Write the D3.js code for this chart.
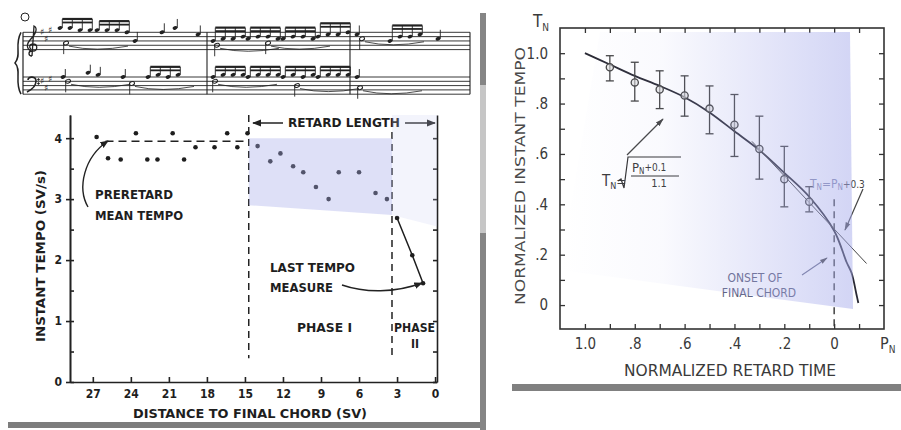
<!DOCTYPE html>
<html>
<head>
<meta charset="utf-8">
<script src="https://cdn.jsdelivr.net/npm/d3@7"></script>
<style>
body { margin: 0; background: #fff; }
svg { display: block; background: #fff; }
.lt { font-family: "DejaVu Sans Condensed", "DejaVu Sans", sans-serif; font-weight: bold; fill: #1e1e1e; }
.rt { font-family: "DejaVu Sans Condensed", "DejaVu Sans", sans-serif; fill: #3a3a3a; }
</style>
</head>
<body>
<svg width="901" height="430"></svg>
<script>
// ---- left panel: distance to final chord (SV) / instant tempo (SV/s)
var preDist  = [26.7, 25.8, 24.8, 23.6, 22.7, 21.9, 20.7, 19.8, 18.9, 17.4, 16.4, 15.6, 14.8];
var preTempo = [4.02, 3.67, 3.65, 4.08, 3.65, 3.65, 4.08, 3.65, 3.85, 3.85, 4.08, 3.85, 4.08];
var retDist  = [14.0, 13.0, 12.2, 11.2, 10.4, 9.4, 8.4, 7.6, 6.0, 4.7, 3.8];
var retTempo = [3.87, 3.62, 3.75, 3.54, 3.44, 3.2, 3.0, 3.44, 3.44, 3.1, 3.0];
var ph2Dist  = [3.0, 1.8, 0.95];
var ph2Tempo = [2.69, 2.08, 1.62];
var preMean = 3.95;
var retardStart = 14.7, phase2Start = 3.4;
var distTicks  = [27, 24, 21, 18, 15, 12, 9, 6, 3, 0];
var tempoTicks = [0, 1, 2, 3, 4];

// ---- right panel: normalized retard time P_N / normalized tempo T_N
var pn   = [0.9, 0.8, 0.7, 0.6, 0.5, 0.4, 0.3, 0.2, 0.1];
var tn   = [0.944, 0.884, 0.856, 0.832, 0.78, 0.716, 0.62, 0.50, 0.41];
var tnHi = [0.99, 0.964, 0.93, 0.91, 0.87, 0.836, 0.75, 0.63, 0.47];
var tnLo = [0.89, 0.81, 0.78, 0.75, 0.68, 0.59, 0.50, 0.39, 0.37];
var fitP = [1.0, 0.9, 0.8, 0.7, 0.6, 0.5, 0.4, 0.3, 0.2, 0.1, 0, -0.05, -0.07, -0.09, -0.097];
var fitT = [1.0, 0.955, 0.91, 0.87, 0.825, 0.765, 0.69, 0.615, 0.525, 0.43, 0.295, 0.17, 0.127, 0.04, 0.008];
var linP = [0.33, -0.13];
var linT = [0.65, 0.165];
var pnTicks = [1.0, 0.8, 0.6, 0.4, 0.2, 0];
var tnTicks = [0, 0.2, 0.4, 0.6, 0.8, 1.0];

// ---- score excerpt (staff steps, 0 = bottom line)
var trebleGroups = [[10,10,9,9],[9,9,9,8],[4],[8],[10],[7],[4,5,5,6],[5,6,6,5],[5,6,6,5],[6,7,7,8],[7],[4,6,6,7],[5]];
var trebleStarts = [0.8, 4.5, 8.3, 11, 12.3, 14.6, 16.1, 19.6, 23.1, 26.6, 30.5, 33.8, 38.6];
var trebleLow    = [3, 2, 3, 5];
var trebleLowAt  = [1.4, 16.5, 21.6, 31];
var bassGroups   = [[8],[10],[9],[8],[8,9,8,9],[8,9,9,9],[8,9,9,9],[8,9,8,9],[8,9,9,9],[8]];
var bassStarts   = [1.1, 3.6, 4.6, 7.1, 9.6, 16.1, 19.6, 23.1, 26.6, 30.5];
var bassLow      = [6, 5, 6, 4, 3];
var bassLowAt    = [1.6, 8.0, 16.3, 24.5, 30.8];
var barAt        = [15.5, 29.8];

var svg = d3.select("svg");
var defs = svg.append("defs");
defs.append("marker").attr("id", "ah").attr("viewBox", "0 0 10 10")
    .attr("refX", 9).attr("refY", 5).attr("markerWidth", 6).attr("markerHeight", 6)
    .attr("orient", "auto")
  .append("path").attr("d", "M0,1 L10,5 L0,9 z").attr("fill", "#222");
defs.append("marker").attr("id", "ahr").attr("viewBox", "0 0 10 10")
    .attr("refX", 9).attr("refY", 5).attr("markerWidth", 7).attr("markerHeight", 7)
    .attr("orient", "auto")
  .append("path").attr("d", "M0,2 L10,5 L0,8 z").attr("fill", "#444");
var grad = defs.append("linearGradient").attr("id", "blue");
grad.append("stop").attr("offset", "0").attr("stop-color", "#a6abeb").attr("stop-opacity", 0);
grad.append("stop").attr("offset", "0.35").attr("stop-color", "#a6abeb").attr("stop-opacity", 0.06);
grad.append("stop").attr("offset", "1").attr("stop-color", "#a6abeb").attr("stop-opacity", 0.5);

// frame bars
svg.append("rect").attr("x", 8).attr("y", 422).attr("width", 478).attr("height", 6).attr("fill", "#7d7d7d");
svg.append("rect").attr("x", 480).attr("y", 13).attr("width", 6).attr("height", 417).attr("fill", "#858585");
svg.append("rect").attr("x", 480).attr("y", 85).attr("width", 6).attr("height", 148).attr("fill", "#c6c6c6");
svg.append("rect").attr("x", 512).attr("y", 384).attr("width", 389).attr("height", 7).attr("fill", "#808080");

// =============== score ===============
var S = svg.append("g").attr("stroke", "#222").attr("fill", "none");
var sx = d3.scaleLinear().domain([0, 40]).range([52, 452]);
var stY = d3.scaleLinear().domain([0, 8]).range([49.6, 32.3]);
var bsY = d3.scaleLinear().domain([0, 8]).range([94.2, 77]);
[stY, bsY].forEach(function(y) {
  [0, 2, 4, 6, 8].forEach(function(s) {
    S.append("line").attr("x1", 23).attr("x2", 470).attr("y1", y(s)).attr("y2", y(s)).attr("stroke-width", 0.9);
  });
});
S.append("line").attr("x1", 23).attr("x2", 23).attr("y1", stY(8)).attr("y2", bsY(0)).attr("stroke-width", 1.2);
S.append("path").attr("d", "M21," + stY(8) + " C14,45 22,55 15,63 C22,70 14,82 21," + bsY(0)).attr("stroke-width", 1.5);
barAt.concat([41.8]).forEach(function(b) {
  S.append("line").attr("x1", sx(b)).attr("x2", sx(b)).attr("y1", stY(8)).attr("y2", bsY(0)).attr("stroke-width", 1.1);
});
// clefs and key signatures
S.append("path").attr("d", "M32,56 C28,56 28,51 32,51 M32,56 L34,26 C38,28 36,34 30,40 C25,46 28,51 33,51 C38,51 38,44 33,44 C29,44 29,48 31,49")
  .attr("stroke-width", 1.3);
S.append("path").attr("d", "M28,80 C28,76 36,76 36,81 C36,86 31,90 27,92").attr("stroke-width", 1.6);
S.append("circle").attr("cx", 38.5).attr("cy", 79.5).attr("r", 0.8).attr("fill", "#222");
S.append("circle").attr("cx", 38.5).attr("cy", 83.5).attr("r", 0.8).attr("fill", "#222");
S.append("circle").attr("cx", 25).attr("cy", 17).attr("r", 4).attr("stroke-width", 1);
[[8, 5, 9], [6, 3, 7]].forEach(function(ks, k) {
  var y = k === 0 ? stY : bsY;
  ks.forEach(function(s, i) {
    svg.append("text").attr("x", 40 + i * 4).attr("y", y(s) + 3).attr("font-size", 9)
      .attr("font-family", "DejaVu Sans").attr("fill", "#222").text("\u266F");
  });
});

function drawGroups(groups, starts, y, lift) {
  groups.forEach(function(g, gi) {
    var xs = g.map(function(s, i) { return sx(starts[gi] + i); });
    var ys = g.map(function(s) { return y(s); });
    var top = d3.min(ys) - lift;
    g.forEach(function(s, i) {
      S.append("ellipse").attr("cx", xs[i]).attr("cy", ys[i]).attr("rx", 2.5).attr("ry", 1.8)
        .attr("transform", "rotate(-20," + xs[i] + "," + ys[i] + ")").attr("fill", "#222").attr("stroke", "none");
      S.append("line").attr("x1", xs[i] + 2.3).attr("x2", xs[i] + 2.3).attr("y1", ys[i]).attr("y2", top).attr("stroke-width", 0.9);
    });
    if (g.length > 1) {
      S.append("line").attr("x1", xs[0] + 2.3).attr("x2", xs[xs.length - 1] + 2.3)
        .attr("y1", top).attr("y2", top).attr("stroke-width", 2.2);
      S.append("line").attr("x1", xs[0] + 2.3).attr("x2", xs[xs.length - 1] + 2.3)
        .attr("y1", top + 3.5).attr("y2", top + 3.5).attr("stroke-width", 1.8);
    }
  });
}
function drawLow(steps, at, y) {
  steps.forEach(function(s, i) {
    var cx = sx(at[i]), cy = y(s);
    S.append("ellipse").attr("cx", cx).attr("cy", cy).attr("rx", 2.6).attr("ry", 1.8)
      .attr("transform", "rotate(-20," + cx + "," + cy + ")").attr("stroke-width", 1);
    S.append("line").attr("x1", cx - 2.3).attr("x2", cx - 2.3).attr("y1", cy).attr("y2", cy + 11).attr("stroke-width", 0.9);
    S.append("path").attr("d", "M" + (cx + 3) + "," + (cy + 3) + " Q" + (cx + 30) + "," + (cy + 9) + " " + (cx + 62) + "," + (cy + 3))
      .attr("stroke-width", 0.8);
  });
}
drawGroups(trebleGroups, trebleStarts, stY, 9);
drawGroups(bassGroups, bassStarts, bsY, 8);
drawLow(trebleLow, trebleLowAt, stY);
drawLow(bassLow, bassLowAt, bsY);

// =============== left panel ===============
var xL = d3.scaleLinear().domain([28.8, -0.15]).range([70, 437]);
var yL = d3.scaleLinear().domain([0, 4.38]).range([382, 115]);
var L = svg.append("g");

function styleAxis(g, cls, size) {
  g.attr("font-family", null).attr("font-size", size).attr("color", "#222");
  g.selectAll("text").attr("class", cls);
  g.selectAll("path,line").attr("stroke-width", 1.6);
}
L.append("g").attr("transform", "translate(0,382)")
  .call(d3.axisBottom(xL).tickValues(distTicks).tickSize(-5).tickPadding(7).tickSizeOuter(0))
  .call(styleAxis, "lt", 12);
L.append("g").attr("transform", "translate(70,0)")
  .call(d3.axisLeft(yL).tickValues(tempoTicks).tickFormat(d3.format("d")).tickSize(4).tickPadding(4).tickSizeOuter(0))
  .call(styleAxis, "lt", 12);
L.append("g").attr("transform", "translate(70,0)")
  .call(d3.axisLeft(yL).tickValues(yL.ticks(9)).tickSize(-4).tickFormat("").tickSizeOuter(0))
  .call(styleAxis, "lt", 12);
L.append("g").attr("transform", "translate(437,0)")
  .call(d3.axisRight(yL).tickValues(yL.ticks(9)).tickSize(-4).tickFormat("").tickSizeOuter(0))
  .call(styleAxis, "lt", 12);

// pre-retard mean and phase boundaries
L.append("line").attr("x1", xL(26)).attr("x2", xL(retardStart))
  .attr("y1", yL(preMean)).attr("y2", yL(preMean))
  .attr("stroke", "#222").attr("stroke-width", 1.5).attr("stroke-dasharray", "8,5");
[retardStart, phase2Start].forEach(function(d, i) {
  L.append("line").attr("x1", xL(d)).attr("x2", xL(d))
    .attr("y1", i === 0 ? yL(4.38) : yL(4.1)).attr("y2", yL(0.39))
    .attr("stroke", "#222").attr("stroke-width", 1.5).attr("stroke-dasharray", "7,5");
});

// dots
L.selectAll(".pre").data(preDist).enter().append("circle")
  .attr("cx", function(d) { return xL(d); })
  .attr("cy", function(d, i) { return yL(preTempo[i]); })
  .attr("r", 2.3).attr("fill", "#1e1e1e");
L.selectAll(".ret").data(retDist).enter().append("circle")
  .attr("cx", function(d) { return xL(d); })
  .attr("cy", function(d, i) { return yL(retTempo[i]); })
  .attr("r", 2.3).attr("fill", "#1e1e1e");
L.append("path")
  .attr("d", d3.line().x(function(d) { return xL(d); }).y(function(d, i) { return yL(ph2Tempo[i]); })(ph2Dist))
  .attr("fill", "none").attr("stroke", "#1e1e1e").attr("stroke-width", 1.5);
L.selectAll(".ph2").data(ph2Dist).enter().append("circle")
  .attr("cx", function(d) { return xL(d); })
  .attr("cy", function(d, i) { return yL(ph2Tempo[i]); })
  .attr("r", 2.3).attr("fill", "#1e1e1e");

// retard length arrow
L.append("line").attr("x1", 283).attr("x2", 253).attr("y1", 123).attr("y2", 123)
  .attr("stroke", "#222").attr("stroke-width", 1.5).attr("marker-end", "url(#ah)");
L.append("line").attr("x1", 405).attr("x2", 435).attr("y1", 123).attr("y2", 123)
  .attr("stroke", "#222").attr("stroke-width", 1.5).attr("marker-end", "url(#ah)");
L.append("path").attr("d", "M88,207 C77,188 84,157 108,141").attr("fill", "none")
  .attr("stroke", "#222").attr("stroke-width", 1.4).attr("marker-end", "url(#ah)");
L.append("path").attr("d", "M342,285 C365,293 395,293 422,283").attr("fill", "none")
  .attr("stroke", "#222").attr("stroke-width", 1.4).attr("marker-end", "url(#ah)");

var lt = [
  ["RETARD LENGTH", 288, 127, 112],
  ["PRERETARD", 95, 199, 78],
  ["MEAN TEMPO", 95, 220, 88],
  ["LAST TEMPO", 270, 272, 85],
  ["MEASURE", 270, 292, 63],
  ["PHASE I", 297, 332, 55],
  ["PHASE", 394, 332, 41]
];
lt.forEach(function(t) {
  L.append("text").attr("class", "lt").attr("x", t[1]).attr("y", t[2]).attr("font-size", 12)
    .attr("textLength", t[3]).attr("lengthAdjust", "spacingAndGlyphs").text(t[0]);
});
L.append("text").attr("class", "lt").attr("x", 415).attr("y", 348).attr("font-size", 12)
  .attr("text-anchor", "middle").text("II");
L.append("text").attr("class", "lt").attr("x", 250).attr("y", 418).attr("font-size", 13)
  .attr("text-anchor", "middle").attr("textLength", 234).attr("lengthAdjust", "spacingAndGlyphs")
  .text("DISTANCE TO FINAL CHORD (SV)");
L.append("text").attr("class", "lt").attr("transform", "translate(45,256) rotate(-90)")
  .attr("font-size", 13).attr("text-anchor", "middle").attr("textLength", 172)
  .attr("lengthAdjust", "spacingAndGlyphs").text("INSTANT TEMPO (SV/s)");

// shaded overlay
L.append("polygon")
  .attr("points", [[xL(retardStart), yL(4.0)], [xL(phase2Start), yL(4.0)], [xL(phase2Start), yL(2.74)], [xL(retardStart), yL(2.9)]].join(" "))
  .attr("fill", "#a9aeea").attr("fill-opacity", 0.38);
L.append("polygon")
  .attr("points", [[xL(phase2Start), yL(4.38)], [437, yL(4.38)], [437, yL(2.55)], [xL(phase2Start), yL(2.74)]].join(" "))
  .attr("fill", "#c9ccf2").attr("fill-opacity", 0.22);

// =============== right panel ===============
var xR = d3.scaleLinear().domain([1.1, -0.2]).range([560, 884]);
var yR = d3.scaleLinear().domain([-0.095, 1.1]).range([329, 28]);
var R = svg.append("g");
var fmtR = function(d) { return d === 0 ? "0" : d === 1 ? "1.0" : d3.format(".1f")(d).replace(/^0/, ""); };
var pMinor = xR.ticks(13).filter(function(d) { return d > -0.15 && d < 1.05; });
var tMinor = yR.ticks(12).filter(function(d) { return d > -0.05 && d < 1.05; });

function styleR(g, size) {
  g.attr("font-family", null).attr("font-size", size).attr("color", "#333");
  g.select(".domain").remove();
  g.selectAll("text").attr("class", "rt");
  g.selectAll("line").attr("stroke-width", 1.3);
}
R.append("g").attr("transform", "translate(0,329)").call(d3.axisBottom(xR).tickValues(pMinor).tickSize(-5).tickFormat("")).call(styleR, 15);
R.append("g").attr("transform", "translate(0,28)").call(d3.axisTop(xR).tickValues(pMinor).tickSize(-5).tickFormat("")).call(styleR, 15);
R.append("g").attr("transform", "translate(560,0)").call(d3.axisLeft(yR).tickValues(tMinor).tickSize(-5).tickFormat("")).call(styleR, 15);
R.append("g").attr("transform", "translate(884,0)").call(d3.axisRight(yR).tickValues(tMinor).tickSize(-5).tickFormat("")).call(styleR, 15);
R.append("g").attr("transform", "translate(0,329)").call(d3.axisBottom(xR).tickValues(pnTicks).tickSize(0).tickPadding(9).tickFormat(fmtR)).call(styleR, 15);
R.append("g").attr("transform", "translate(560,0)").call(d3.axisLeft(yR).tickValues(tnTicks).tickSize(0).tickPadding(12).tickFormat(fmtR)).call(styleR, 15);
R.append("rect").attr("x", 560).attr("y", 28).attr("width", 324).attr("height", 301)
  .attr("fill", "none").attr("stroke", "#333").attr("stroke-width", 1.6);

// dashed onset line
R.append("line").attr("x1", xR(0)).attr("x2", xR(0)).attr("y1", yR(0.42)).attr("y2", yR(-0.095))
  .attr("stroke", "#333").attr("stroke-width", 1.4).attr("stroke-dasharray", "7,5");

// fitted curve and straight line
R.append("path")
  .attr("d", d3.line().x(function(d) { return xR(d); }).y(function(d, i) { return yR(fitT[i]); }).curve(d3.curveCatmullRom)(fitP))
  .attr("fill", "none").attr("stroke", "#2a2a35").attr("stroke-width", 1.8);
R.append("path")
  .attr("d", d3.line().x(function(d) { return xR(d); }).y(function(d, i) { return yR(linT[i]); })(linP))
  .attr("fill", "none").attr("stroke", "#444").attr("stroke-width", 1);

// error bars
var eb = R.selectAll(".eb").data(pn).enter().append("g").attr("stroke", "#444").attr("stroke-width", 1.3).attr("fill", "none");
eb.append("line").attr("x1", function(d) { return xR(d); }).attr("x2", function(d) { return xR(d); })
  .attr("y1", function(d, i) { return yR(tnHi[i]); }).attr("y2", function(d, i) { return yR(tnLo[i]); });
eb.append("line").attr("x1", function(d) { return xR(d) - 4; }).attr("x2", function(d) { return xR(d) + 4; })
  .attr("y1", function(d, i) { return yR(tnHi[i]); }).attr("y2", function(d, i) { return yR(tnHi[i]); });
eb.append("line").attr("x1", function(d) { return xR(d) - 4; }).attr("x2", function(d) { return xR(d) + 4; })
  .attr("y1", function(d, i) { return yR(tnLo[i]); }).attr("y2", function(d, i) { return yR(tnLo[i]); });
eb.append("circle").attr("cx", function(d) { return xR(d); }).attr("cy", function(d, i) { return yR(tn[i]); })
  .attr("r", 3.6).attr("fill", "#ddd").attr("fill-opacity", 0.6);

// annotations
var tN = R.append("text").attr("class", "rt").attr("x", 533).attr("y", 27).attr("font-size", 17);
tN.append("tspan").text("T");
tN.append("tspan").attr("font-size", 10).attr("dy", 4).text("N");
var pN = R.append("text").attr("class", "rt").attr("x", 880).attr("y", 349).attr("font-size", 16);
pN.append("tspan").text("P");
pN.append("tspan").attr("font-size", 10).attr("dy", 4).text("N");
R.append("text").attr("class", "rt").attr("x", 730).attr("y", 376).attr("font-size", 16)
  .attr("text-anchor", "middle").attr("textLength", 212).attr("lengthAdjust", "spacingAndGlyphs")
  .text("NORMALIZED RETARD TIME");
R.append("text").attr("class", "rt").attr("transform", "translate(525,176) rotate(-90)")
  .attr("font-size", 14).attr("text-anchor", "middle").attr("textLength", 258)
  .attr("lengthAdjust", "spacingAndGlyphs").style("fill", "#4a4a4a").text("NORMALIZED INSTANT TEMPO");

// formula sqrt((P+0.1)/1.1)
var f1 = R.append("text").attr("class", "rt").attr("x", 602).attr("y", 186).attr("font-size", 15);
f1.append("tspan").text("T");
f1.append("tspan").attr("font-size", 9).attr("dy", 3).text("N");
f1.append("tspan").attr("font-size", 13).attr("dy", -3).text("=");
R.append("path").attr("d", "M618,181 L621,179 L624,188 L628,157 L681,157")
  .attr("fill", "none").attr("stroke", "#333").attr("stroke-width", 1.2);
var f2 = R.append("text").attr("class", "rt").attr("x", 632).attr("y", 172).attr("font-size", 13);
f2.append("tspan").text("P");
f2.append("tspan").attr("font-size", 8).attr("dy", 2).text("N");
f2.append("tspan").attr("font-size", 10).attr("dy", -3).text("+0.1");
R.append("line").attr("x1", 631).attr("x2", 679).attr("y1", 176).attr("y2", 176).attr("stroke", "#333").attr("stroke-width", 1);
R.append("text").attr("class", "rt").attr("x", 659).attr("y", 187).attr("font-size", 11).attr("text-anchor", "middle").text("1.1");
R.append("line").attr("x1", 627).attr("x2", 663).attr("y1", 155).attr("y2", 119)
  .attr("stroke", "#444").attr("stroke-width", 1.2).attr("marker-end", "url(#ahr)");

var f3 = R.append("text").attr("class", "rt").attr("x", 810).attr("y", 188).attr("font-size", 12).style("fill", "#8489ad");
f3.append("tspan").text("T");
f3.append("tspan").attr("font-size", 8).attr("dy", 2).text("N");
f3.append("tspan").attr("dy", -2).text("=P");
f3.append("tspan").attr("font-size", 8).attr("dy", 2).text("N");
f3.append("tspan").attr("dy", -2).attr("font-size", 10).style("fill", "#444").text("+0.3");
R.append("line").attr("x1", 863).attr("x2", 845).attr("y1", 189).attr("y2", 230)
  .attr("stroke", "#444").attr("stroke-width", 1.2).attr("marker-end", "url(#ahr)");

R.append("text").attr("class", "rt").attr("x", 755).attr("y", 282).attr("font-size", 12)
  .attr("text-anchor", "middle").style("fill", "#5f6382").text("ONSET OF");
R.append("text").attr("class", "rt").attr("x", 759).attr("y", 297).attr("font-size", 12)
  .attr("text-anchor", "middle").style("fill", "#5f6382").text("FINAL CHORD");
R.append("line").attr("x1", 802).attr("x2", 827).attr("y1", 275).attr("y2", 258)
  .attr("stroke", "#6a6e8c").attr("stroke-width", 1.1).attr("marker-end", "url(#ahr)");

// shaded overlay
var overlayR = [[600, 32], [850, 32], [853, 309], [560, 270]];
R.append("polygon").attr("points", overlayR.join(" ")).attr("fill", "url(#blue)");
</script>
</body>
</html>
